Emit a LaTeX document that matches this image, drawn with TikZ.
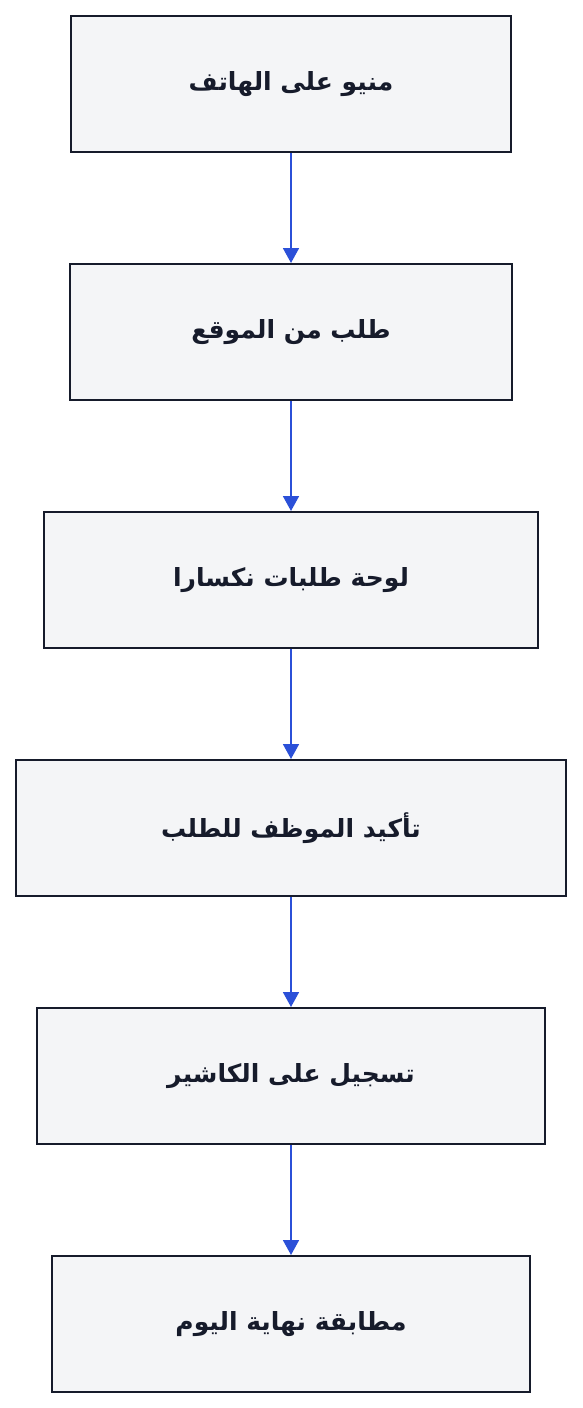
\documentclass[tikz,border=0pt]{standalone}
\usepackage{fontspec}
\TeXXeTstate=1
\newfontfamily\arabicfont[Script=Arabic]{DejaVu Sans}
\usetikzlibrary{arrows.meta}
\definecolor{boxfill}{HTML}{F4F5F7}
\definecolor{boxline}{HTML}{161B2B}
\definecolor{arrowblue}{HTML}{2B50D8}
\begin{document}
\begin{tikzpicture}[x=1pt,y=-1pt,
  stepbox/.style={draw=boxline,fill=boxfill,line width=2pt,rectangle,inner sep=0pt,
     font=\arabicfont\bfseries\fontsize{25}{30}\selectfont,text=boxline},
  flow/.style={draw=arrowblue,line width=1.8pt,-{Triangle[width=16pt,length=15pt]}}]
\useasboundingbox (0,0) rectangle (582,1408);
\node[stepbox,minimum width=440pt,minimum height=136pt] (n1) at (291,84) {\beginR منيو على الهاتف\endR};
\node[stepbox,minimum width=442pt,minimum height=136pt] (n2) at (291,332) {\beginR طلب من الموقع\endR};
\node[stepbox,minimum width=494pt,minimum height=136pt] (n3) at (291,580) {\beginR لوحة طلبات نكسارا\endR};
\node[stepbox,minimum width=550pt,minimum height=136pt] (n4) at (291,828) {\beginR تأكيد الموظف للطلب\endR};
\node[stepbox,minimum width=508pt,minimum height=136pt] (n5) at (291,1076) {\beginR تسجيل على الكاشير\endR};
\node[stepbox,minimum width=478pt,minimum height=136pt] (n6) at (291,1324) {\beginR مطابقة نهاية اليوم\endR};
\draw[flow] (n1) -- (n2);
\draw[flow] (n2) -- (n3);
\draw[flow] (n3) -- (n4);
\draw[flow] (n4) -- (n5);
\draw[flow] (n5) -- (n6);
\end{tikzpicture}
\end{document}
